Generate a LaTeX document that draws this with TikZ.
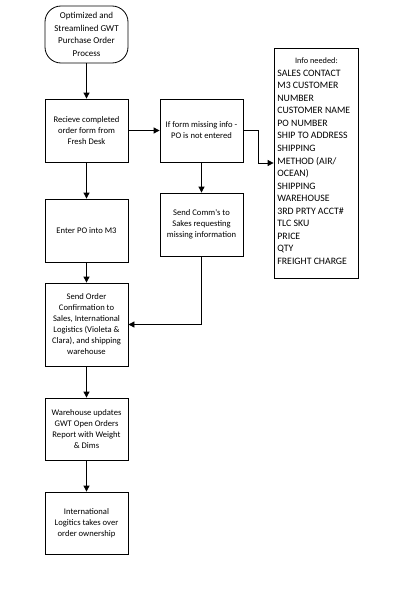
\documentclass[tikz,border=0pt]{standalone}
\usepackage{fontspec}
\setmainfont{Carlito}
\usetikzlibrary{arrows.meta,calc}
\begin{document}
\begin{tikzpicture}[x=1pt,y=-1pt,
  every path/.style={line width=0.8pt},
  proc/.style={draw, line width=0.8pt, minimum width=83pt, minimum height=63pt, align=center, inner sep=0pt, font=\fontsize{8.6}{11}\selectfont},
  term/.style={proc, minimum height=57pt, rounded corners=16pt, font=\fontsize{9}{12.7}\selectfont},
  arr/.style={-{Triangle[width=6pt,length=6pt]}, line width=0.8pt}
]
\useasboundingbox (0,0) rectangle (413,602);
\node[term] (start) at (86.5,34.5) {Optimized and\\Streamlined GWT\\Purchase Order\\Process};
\node[proc] (recv) at (86.5,130.5) {Recieve completed\\order form from\\Fresh Desk};
\node[proc] (missing) at (201.5,130.5) {If form missing info -\\PO is not entered};
\node[proc] (enter) at (86.5,230.5) {Enter PO into M3};
\node[proc] (comm) at (201.5,224.5) {Send Comm\textquotesingle s to\\Sakes requesting\\missing information};
\node[proc, minimum height=83pt] (confirm) at (86.5,324.5) {Send Order\\Confirmation to\\Sales, International\\Logistics (Violeta \&\\Clara), and shipping\\warehouse};
\node[proc, minimum height=62pt] (ware) at (86.5,429) {Warehouse updates\\GWT Open Orders\\Report with Weight\\\& Dims};
\node[proc, minimum height=62pt] (intl) at (86.5,523) {International\\Logitics takes over\\order ownership};
\node[draw, line width=0.8pt, minimum width=84pt, minimum height=230pt, inner sep=0pt] (info) at (316,163) {};
\node[anchor=north west, align=left, inner sep=0pt, font=\fontsize{9.8}{12.55}\selectfont] (infotext) at (277,57.5) {\makebox[78pt]{\fontsize{8.3}{10}\selectfont Info needed:}\\
SALES CONTACT\\
M3 CUSTOMER\\
NUMBER\\
CUSTOMER NAME\\
PO NUMBER\\
SHIP TO ADDRESS\\
SHIPPING\\
METHOD (AIR/\\
OCEAN)\\
SHIPPING\\
WAREHOUSE\\
3RD PRTY ACCT\#\\
TLC SKU\\
PRICE\\
QTY\\
FREIGHT CHARGE};
\coordinate (bend) at ($(missing.east)!0.5!(missing.east -| info.west)$);
\draw[arr] (start) -- (recv);
\draw[arr] (recv) -- (missing);
\draw[arr] (recv) -- (enter);
\draw[arr] (missing) -- (comm);
\draw[arr] (missing.east) -- (bend) |- (info.west);
\draw[arr] (enter) -- (confirm);
\draw[arr] (comm.south) |- (confirm.east);
\draw[arr] (confirm) -- (ware);
\draw[arr] (ware) -- (intl);
\end{tikzpicture}
\end{document}
